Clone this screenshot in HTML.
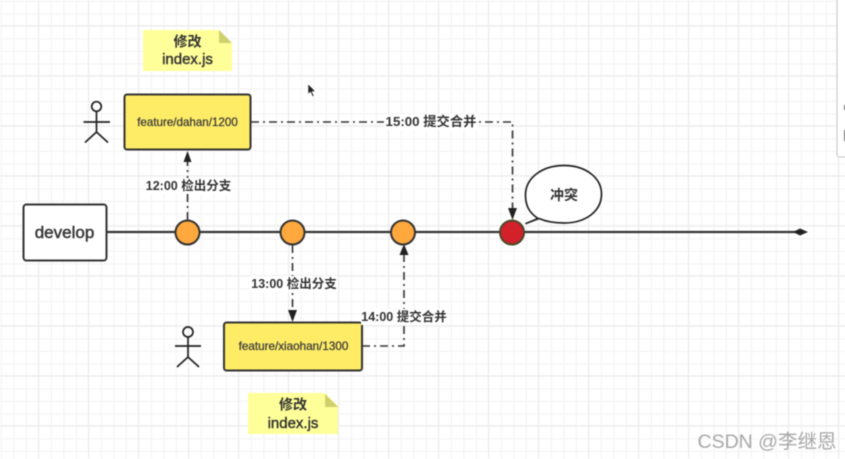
<!DOCTYPE html>
<html><head><meta charset="utf-8"><style>
html,body{margin:0;padding:0;background:#fff}
svg{display:block}
#d{filter:blur(.5px)}
text{font-family:"Liberation Sans","Noto Sans CJK SC",sans-serif;fill:#333;text-anchor:middle}
.b{font-weight:bold}
</style></head><body>
<svg width="845" height="459" viewBox="0 0 845 459" xmlns="http://www.w3.org/2000/svg">
<defs>
<pattern id="g1" width="12.5" height="12.5" x="0.8" y="0.8" patternUnits="userSpaceOnUse"><path d="M.5 0V12.5M0 .5H12.5" stroke="#f2f2f2" stroke-width="1" fill="none"/></pattern>
<pattern id="g2" width="50" height="50" x="38" y="25.2" patternUnits="userSpaceOnUse"><path d="M.5 0V50M0 .5H50" stroke="#ebebeb" stroke-width="1" fill="none"/></pattern>
</defs>
<g id="d">
<rect width="845" height="459" fill="#fff"/>
<rect width="845" height="459" fill="url(#g1)"/>
<rect width="845" height="459" fill="url(#g2)"/>

<!-- right panel edge -->
<rect x="837" y="-2" width="12" height="159" rx="2" fill="#fff" stroke="#c4c4c4"/>
<rect x="844" y="105" width="1" height="5" fill="#666"/>
<rect x="844" y="130" width="1" height="11" fill="#666"/>

<!-- main line -->
<path d="M106 232H796" stroke="#333" stroke-width="2.200" fill="none"/>
<path d="M793 232l7-3.500 8 3.500-8 3.500z" fill="#222"/>

<!-- develop -->
<rect x="23.500" y="204.500" width="83" height="56" rx="3" fill="#fff" stroke="#333" stroke-width="2"/>
<text x="64.500" y="238" font-size="17" stroke="#333" stroke-width=".45">develop</text>

<!-- notes -->
<path d="M143 30H219L232 43V71H143z" fill="#ffff99"/>
<path d="M219 30L232 43H219z" fill="#cfcf70"/>
<text x="187.500" y="46.500" font-size="14" class="b">修改</text>
<text x="187.500" y="64" font-size="15" stroke="#333" stroke-width=".4">index.js</text>

<path d="M248 393H325L338 406V434H248z" fill="#ffff99"/>
<path d="M325 394L338 407H325z" fill="#cfcf70"/>
<text x="293" y="409.500" font-size="14" class="b">修改</text>
<text x="293" y="428" font-size="15" stroke="#333" stroke-width=".4">index.js</text>

<!-- feature boxes -->
<rect x="124.500" y="94.500" width="126" height="55" rx="2.500" fill="#ffec66" stroke="#333" stroke-width="2"/>
<text x="187.500" y="126" font-size="11.600" stroke="#444" stroke-width=".25">feature/dahan/1200</text>
<rect x="224" y="322.500" width="138" height="48" rx="2.500" fill="#ffec66" stroke="#333" stroke-width="2"/>
<text x="293.500" y="350" font-size="11.700" stroke="#444" stroke-width=".25">feature/xiaohan/1300</text>

<!-- dash-dot connectors -->
<g fill="none" stroke="#333" stroke-width="1.600" stroke-dasharray="8 4 2 4">
<path d="M187.500 220V160"/>
<path d="M251 122H512.500V212"/>
<path d="M292.500 245V311"/>
<path d="M362 346H404V254"/>
</g>
<path d="M187.500 151l-4 11h8z" fill="#222"/>
<path d="M512.500 220l-4.500-12h9z" fill="#222"/>
<path d="M292.500 322l-4.500-12h9z" fill="#222"/>
<path d="M404 244l-4.500 11h9z" fill="#222"/>

<!-- connector labels -->
<rect x="144" y="178" width="88" height="16" fill="#fff"/>
<text x="188.500" y="190" font-size="12.500" class="b">12:00 检出分支</text>
<rect x="384" y="114" width="94" height="16" fill="#fff"/>
<text x="431" y="126" font-size="13.300" class="b">15:00 提交合并</text>
<rect x="250" y="276" width="88" height="16" fill="#fff"/>
<text x="294" y="288" font-size="12.500" class="b">13:00 检出分支</text>
<rect x="361" y="309" width="86" height="16" fill="#fff"/>
<text x="404" y="321" font-size="12.500" class="b">14:00 提交合并</text>

<!-- circles -->
<g stroke="#333" stroke-width="2">
<circle cx="187.500" cy="232.500" r="12" fill="#ffa83d"/>
<circle cx="292.500" cy="232.500" r="12" fill="#ffa83d"/>
<circle cx="403" cy="232.500" r="12" fill="#ffa83d"/>
</g>
<circle cx="512" cy="232.500" r="12" fill="#d3202a" stroke="#4a4a2a" stroke-width="2"/>

<!-- bubble -->
<path d="M526 223.500L538 218.500C528 212 525.500 204 525.500 195C525.500 178 542 165.500 564 165.500C586 165.500 601.500 178 601.500 194C601.500 211 586 223 564 223C556 223 547 222 539 218.500Z" fill="#fff" stroke="#222" stroke-width="1.700" stroke-linejoin="round"/>
<text x="564" y="200" font-size="14" class="b">冲突</text>

<!-- actors -->
<g fill="none" stroke="#222" stroke-width="1.700">
<circle cx="96.500" cy="106.500" r="4.800"/>
<path d="M96.500 111.500V132M83.500 122H110M96.500 132L85 142.500M96.500 132L108 142.500"/>
<circle cx="188" cy="332" r="5"/>
<path d="M188 337V357M175 346H201M188 357L177 367M188 357L199 367"/>
</g>

<!-- cursor -->
<path d="M308 84V94L310.500 92L312.500 96.500L314 96L312 91.500H315.500Z" fill="#222" stroke="#fff" stroke-width=".5"/>

<!-- watermark -->
<text x="767" y="448" font-size="19.500" style="fill:#a8a8a8">CSDN @李继恩</text>
</g>
</svg>
</body></html>
